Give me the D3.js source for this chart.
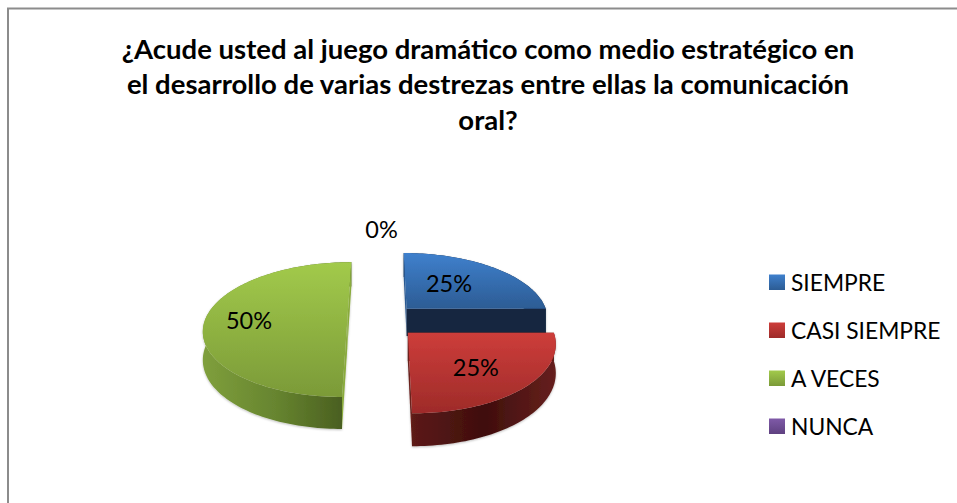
<!DOCTYPE html>
<html>
<head>
<meta charset="utf-8">
<script src="https://cdnjs.cloudflare.com/ajax/libs/d3/7.8.5/d3.min.js"></script>
<style>
  html, body { margin: 0; padding: 0; background: #fff; }
  svg { display: block; }
  text { font-family: Lato, "Open Sans", sans-serif; fill: #000; }
</style>
</head>
<body>
<svg id="chart" width="957" height="503"></svg>
<script>
// 1. Data
const titleLines = [
  "¿Acude usted al juego dramático como medio estratégico en",
  "el desarrollo de varias destrezas entre ellas la comunicación",
  "oral?",
];
const categories = ["SIEMPRE", "CASI SIEMPRE", "A VECES", "NUNCA"];
const values = [25, 25, 50, 0];

// colours per category: top of face, bottom of face
const topColors = ["#3f80cd", "#cd3d3a", "#a2ca4b", "#7f5aa8"];
const bottomColors = ["#2c5c94", "#9e2b29", "#7b9a38", "#5f4180"];
// outer wall gradient, left to right
const wallColors = [
  ["#12263f", "#12263f"],
  ["#5c1a17", "#3f0e0d", "#66201d"],
  ["#7f9f3c", "#66842f", "#465a1e"],
  ["#3f2a58", "#3f2a58"],
];
// the two straight cut faces of each slice
const cutColors = [
  ["#2b5a92", "#12263f"],
  ["#5c1a17", "#6a201d"],
  ["#8aab3e", "#8aab3e"],
  ["#3f2a58", "#3f2a58"],
];

// 2. Layout
const width = 957,
  height = 503;
const cx = 381.5,
  cy = 320.5,
  rx = 142.5,
  ry = 66.2,
  perspective = 0.134,
  depth = 27.7;
const explode = [0.255, 0.255, 0.24, 0.24];
const labelRadius = [0.54, 0.63, 0.69, 1.43];
const labelNudge = [[-7, -2], [-3, 2], [0, 0], [0, 0]];

const svg = d3.select("#chart");
const defs = svg.append("defs");

// soft edge around the slices
const shadow = defs
  .append("filter")
  .attr("id", "soft")
  .attr("x", "-10%")
  .attr("y", "-10%")
  .attr("width", "120%")
  .attr("height", "120%");
shadow
  .append("feDropShadow")
  .attr("dx", 0)
  .attr("dy", 1)
  .attr("stdDeviation", 1.2)
  .attr("flood-color", "#000")
  .attr("flood-opacity", 0.25);

// frame of the chart
svg
  .append("rect")
  .attr("x", 8)
  .attr("y", 8.5)
  .attr("width", width + 20)
  .attr("height", height + 20)
  .attr("fill", "none")
  .attr("stroke", "#8c8c8c")
  .attr("stroke-width", 2);

// 3. Title
svg
  .append("g")
  .selectAll("text")
  .data(titleLines)
  .enter()
  .append("text")
  .attr("x", 488)
  .attr("y", (d, i) => 58.5 + i * 35.5)
  .attr("text-anchor", "middle")
  .attr("font-size", 27.5)
  .attr("font-weight", 700)
  .text((d) => d);

// 4. Pie: the layout gives the angles, the projection tilts them
const pie = d3
  .pie()
  .value((d) => d)
  .sort(null);
const slices = pie(values);

// u to the right, v to the viewer, z up
function project(u, v, z) {
  const s = 1 / (1 - perspective * v);
  return [cx + rx * u * s, cy + (ry * v - depth * z) * s];
}

const line = d3.line();

function pointAt(d, angle, r, z) {
  const mid = (d.startAngle + d.endAngle) / 2;
  const u = explode[d.index] * Math.sin(mid) + r * Math.sin(angle);
  const v = -explode[d.index] * Math.cos(mid) - r * Math.cos(angle);
  return project(u, v, z);
}

function arcPoints(d, z) {
  const n = Math.max(2, Math.ceil((d.endAngle - d.startAngle) * 40));
  return d3
    .range(n + 1)
    .map((i) =>
      pointAt(d, d.startAngle + ((d.endAngle - d.startAngle) * i) / n, 1, z)
    );
}

const drawOrder = [0, 2, 1, 3];
const pieGroup = svg.append("g");

drawOrder.forEach((i) => {
  const d = slices[i];
  if (d.value === 0) return;

  const top = arcPoints(d, 0);
  const bottom = arcPoints(d, -1);
  const apex = pointAt(d, 0, 0, 0);
  const apexLow = pointAt(d, 0, 0, -1);

  const g = pieGroup.append("g").attr("filter", "url(#soft)");

  // outer wall
  const xs = top.map((p) => p[0]);
  const wallId = `wall-${i}`;
  const wallGrad = defs
    .append("linearGradient")
    .attr("id", wallId)
    .attr("gradientUnits", "userSpaceOnUse")
    .attr("x1", d3.min(xs))
    .attr("x2", d3.max(xs))
    .attr("y1", 0)
    .attr("y2", 0);
  wallColors[i].forEach((c, k) => {
    wallGrad
      .append("stop")
      .attr("offset", k / (wallColors[i].length - 1))
      .attr("stop-color", c);
  });
  g.append("path")
    .attr("d", line(top.concat(bottom.slice().reverse())) + "Z")
    .attr("fill", `url(#${wallId})`);

  // straight cut faces
  g.append("path")
    .attr("d", line([apex, top[0], bottom[0], apexLow]) + "Z")
    .attr("fill", cutColors[i][0]);
  g.append("path")
    .attr(
      "d",
      line([apex, top[top.length - 1], bottom[bottom.length - 1], apexLow]) + "Z"
    )
    .attr("fill", cutColors[i][1]);

  // top face
  const faceId = `face-${i}`;
  const ys = top.map((p) => p[1]).concat(apex[1]);
  const faceGrad = defs
    .append("linearGradient")
    .attr("id", faceId)
    .attr("gradientUnits", "userSpaceOnUse")
    .attr("x1", 0)
    .attr("x2", 0)
    .attr("y1", d3.min(ys))
    .attr("y2", d3.max(ys));
  faceGrad.append("stop").attr("offset", 0).attr("stop-color", topColors[i]);
  faceGrad.append("stop").attr("offset", 1).attr("stop-color", bottomColors[i]);
  g.append("path")
    .attr("d", line([apex].concat(top)) + "Z")
    .attr("fill", `url(#${faceId})`);
});

// 5. Percent labels
const total = d3.sum(values);
svg
  .append("g")
  .selectAll("text")
  .data(slices)
  .enter()
  .append("text")
  .attr("x", (d, i) => pointAt(d, (d.startAngle + d.endAngle) / 2, labelRadius[i], 0)[0] + labelNudge[i][0])
  .attr("y", (d, i) => pointAt(d, (d.startAngle + d.endAngle) / 2, labelRadius[i], 0)[1] + labelNudge[i][1])
  .attr("dy", "0.35em")
  .attr("text-anchor", "middle")
  .attr("font-size", 23.5)
  .text((d) => `${Math.round((d.value / total) * 100)}%`);

// 6. Legend
const legendY = d3
  .scalePoint()
  .domain(categories)
  .range([282.5, 426.5]);

const legendItems = svg
  .append("g")
  .selectAll("g")
  .data(categories)
  .enter()
  .append("g")
  .attr("transform", (d) => `translate(769,${legendY(d)})`);

categories.forEach((c, i) => {
  const grad = defs
    .append("linearGradient")
    .attr("id", `legend-${i}`)
    .attr("x1", 0)
    .attr("x2", 0)
    .attr("y1", 0)
    .attr("y2", 1);
  grad.append("stop").attr("offset", 0).attr("stop-color", topColors[i]);
  grad.append("stop").attr("offset", 1).attr("stop-color", bottomColors[i]);
});

legendItems
  .append("rect")
  .attr("x", 0)
  .attr("y", -8)
  .attr("width", 16)
  .attr("height", 15.5)
  .attr("fill", (d, i) => `url(#legend-${i})`);

legendItems
  .append("text")
  .attr("x", 22)
  .attr("y", 1)
  .attr("dy", "0.35em")
  .attr("font-size", 22.8)
  .text((d) => d);
</script>
</body>
</html>
